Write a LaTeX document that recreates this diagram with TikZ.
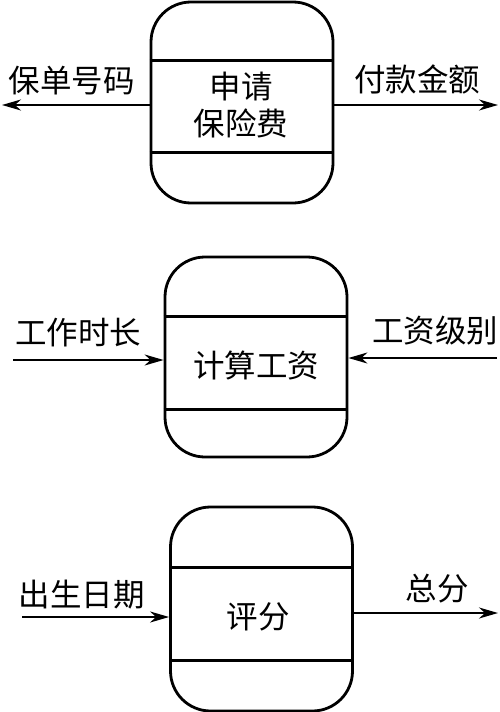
\documentclass[tikz,border=0pt]{standalone}
\usepackage{fontspec}
\setmainfont{Noto Sans CJK SC}
\usetikzlibrary{positioning,arrows.meta,calc}

\begin{document}
\begin{tikzpicture}[x=1pt,y=-1pt,font=\fontsize{31.5}{37}\selectfont,
  >={Stealth[length=19pt,width=11pt,inset=6pt]},
  proc/.style={draw,line width=2.8pt,rounded corners=40pt,minimum width=182pt,inner sep=0pt},
  band/.style={line width=2.8pt},
  flow/.style={->,line width=2pt},
  lbl/.style={inner sep=0pt,align=center}]
\useasboundingbox (0,0) rectangle (499,712);
% 申请保险费
\node[proc,minimum height=201pt] (b1) at (242,102.5) {};
\draw[band] ($(b1.north west)+(0,60)$) -- ($(b1.north east)+(0,60)$);
\draw[band] ($(b1.south west)+(0,-52)$) -- ($(b1.south east)+(0,-52)$);
\node[lbl] (t1) at (241,105) {申请\\保险费};
\coordinate (o1a) at (2,105);
\coordinate (o1b) at (498,105);
\draw[flow] (o1a -| b1.west) -- (o1a);
\draw[flow] (o1b -| b1.east) -- (o1b);
\node[lbl] (l1a) at (72,81) {保单号码};
\node[lbl] (l1b) at (417,79) {付款金额};
% 计算工资
\node[proc,minimum height=200pt] (b2) at (256,357) {};
\draw[band] ($(b2.north west)+(0,61)$) -- ($(b2.north east)+(0,61)$);
\draw[band] ($(b2.south west)+(0,-49)$) -- ($(b2.south east)+(0,-49)$);
\node[lbl] (t2) at (256,365) {计算工资};
\coordinate (i2a) at (13,360);
\coordinate (i2b) at (497,358);
\draw[flow] (i2a) -- (i2a -| b2.west);
\draw[flow] (i2b) -- (i2b -| b2.east);
\node[lbl] (l2a) at (78,333) {工作时长};
\node[lbl] (l2b) at (435,331) {工资级别};
% 评分
\node[proc,minimum height=204pt] (b3) at (261.5,609) {};
\draw[band] ($(b3.north west)+(0,62)$) -- ($(b3.north east)+(0,62)$);
\draw[band] ($(b3.south west)+(0,-52)$) -- ($(b3.south east)+(0,-52)$);
\node[lbl] (t3) at (258,617) {评分};
\coordinate (i3) at (22,617);
\coordinate (o3) at (498,613);
\draw[flow] (i3) -- (i3 -| b3.west);
\draw[flow] (o3 -| b3.east) -- (o3);
\node[lbl] (l3a) at (82,595) {出生日期};
\node[lbl] (l3b) at (437,589) {总分};
\end{tikzpicture}
\end{document}
